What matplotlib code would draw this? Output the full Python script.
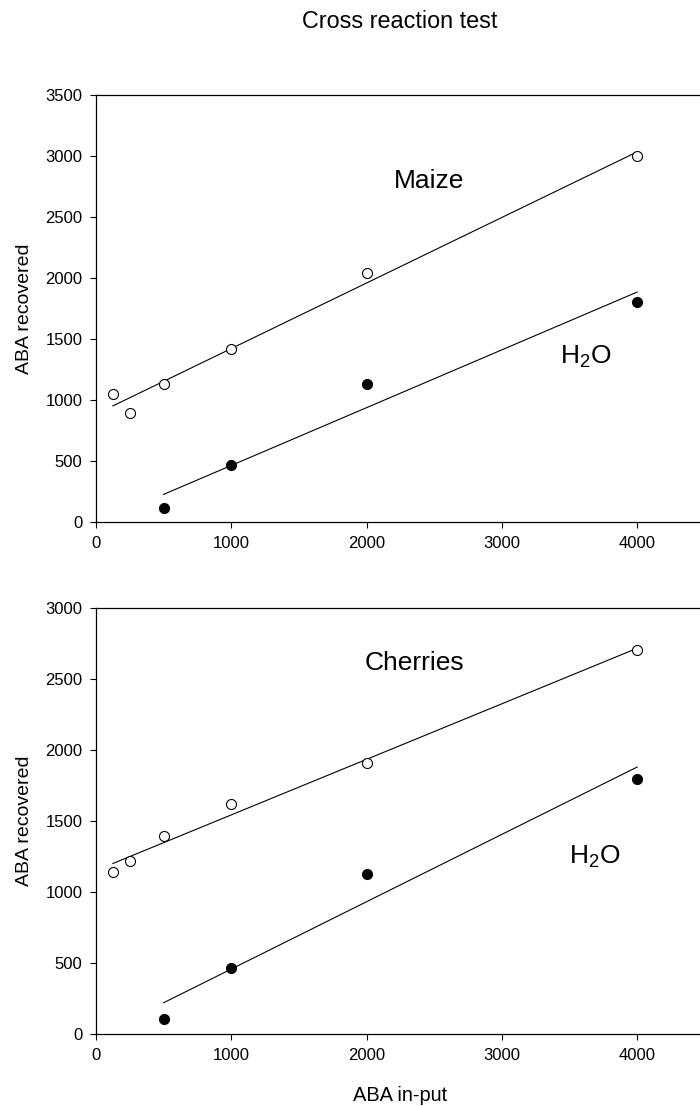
import numpy as np
import matplotlib
matplotlib.use('Agg')
import matplotlib.pyplot as plt

plt.rcParams['font.family'] = ['Liberation Sans', 'DejaVu Sans']
plt.rcParams['mathtext.default'] = 'regular'

# data
x_sample = [125, 250, 500, 1000, 2000, 4000]
maize = [1050, 890, 1130, 1420, 2040, 3000]
cherries = [1140, 1220, 1390, 1620, 1910, 2705]
x_water = [500, 1000, 2000, 4000]
water_top = [110, 465, 1130, 1800]
water_bot = [105, 462, 1125, 1795]

xticks = [0, 1000, 2000, 3000, 4000]

W, H = 700, 1106
fig = plt.figure(figsize=(W / 100, H / 100), dpi=100)

left = 96 / W
ax1 = fig.add_axes([left, 1 - 521.7 / H, 1 - left, 426.7 / H])
ax2 = fig.add_axes([left, 1 - 1034 / H, 1 - left, 426.3 / H])


def fit_line(ax, x, y):
    slope, icpt = np.polyfit(x, y, 1)
    xs = np.array([min(x), max(x)])
    ax.plot(xs, slope * xs + icpt, color='black', lw=0.8)


def panel(ax, sample, water, ymax, name, name_xy, water_xy):
    fit_line(ax, x_sample, sample)
    fit_line(ax, x_water, water)
    ax.plot(x_sample, sample, 'o', ms=7.2, mfc='white', mec='black', mew=0.8)
    ax.plot(x_water, water, 'o', ms=7.2, mfc='black', mec='black', mew=0.8)
    ax.set_xlim(0, (W - 96) / 0.1353)
    ax.set_ylim(0, ymax)
    ax.set_xticks(xticks)
    ax.set_yticks(np.arange(0, ymax + 1, 500))
    ax.spines['right'].set_visible(False)
    for s in ['left', 'bottom', 'top']:
        ax.spines[s].set_linewidth(0.9)
    ax.tick_params(direction='out', length=4.3, width=0.8, labelsize=12, pad=5.5)
    ax.tick_params(axis='x', pad=6)
    ax.text(name_xy[0], name_xy[1], name, fontsize=19, ha='center', va='center')
    ax.text(water_xy[0], water_xy[1], 'H$_2$O', fontsize=19, ha='center', va='center')
    ax.set_ylabel('ABA recovered', fontsize=14)
    ax.yaxis.set_label_coords(-0.104, 0.5)


panel(ax1, maize, water_top, 3500, 'Maize', (2465, 2797), (3622, 1354))
panel(ax2, cherries, water_bot, 3000, 'Cherries', (2350, 2609), (3688, 1248))

fig.text(400 / W, 1 - 21 / H, 'Cross reaction test', fontsize=16.8, ha='center', va='center')
fig.text(400.5 / W, 1 - 1095.7 / H, 'ABA in-put', fontsize=14.4, ha='center', va='center')

fig.savefig('out.png', dpi=100)
